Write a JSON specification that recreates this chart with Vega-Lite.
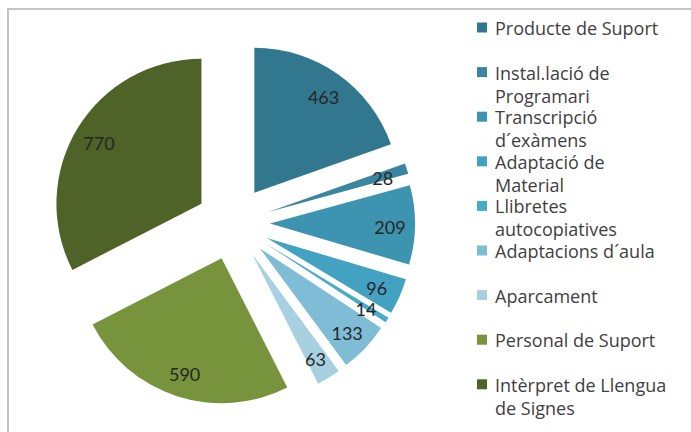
{
  "$schema": "https://vega.github.io/schema/vega-lite/v6.json",
  "autosize": "none",
  "padding": {"left": 8, "top": 9, "right": 0, "bottom": 0},
  "width": 683,
  "height": 423,
  "background": "white",
  "view": {"stroke": "#c4c4c4", "strokeWidth": 2, "strokeDash": [683, 1106, 423]},
  "config": {
    "style": {"guide-label": {"lineHeight": 23}}
  },
  "data": {
    "values": [
      {"categoria": "Producte de Suport", "valor": 463},
      {"categoria": "Instal.lació de Programari", "valor": 28},
      {"categoria": "Transcripció d´exàmens", "valor": 209},
      {"categoria": "Adaptació de Material", "valor": 96},
      {"categoria": "Llibretes autocopiatives", "valor": 14},
      {"categoria": "Adaptacions d´aula", "valor": 133},
      {"categoria": "Aparcament", "valor": 63},
      {"categoria": "Personal de Suport", "valor": 590},
      {"categoria": "Intèrpret de Llengua de Signes", "valor": 770}
    ]
  },
  "transform": [
    {"joinaggregate": [{"op": "sum", "field": "valor", "as": "total"}]},
    {"stack": "valor", "groupby": [], "as": ["s0", "s1"]}
  ],
  "layer": [
    {
      "mark": {
        "type": "arc",
        "radius": 145,
        "x": {"expr": "225 + 37*sin(PI*(datum.s0+datum.s1)/datum.total)"},
        "y": {"expr": "214 - 37*cos(PI*(datum.s0+datum.s1)/datum.total)"}
      },
      "encoding": {
        "theta": {"field": "valor", "type": "quantitative", "stack": true},
        "order": {"field": "s0", "type": "quantitative"},
        "color": {
          "field": "categoria",
          "type": "nominal",
          "sort": null,
          "scale": {
            "domain": ["Producte de Suport", "Instal.lació de Programari", "Transcripció d´exàmens", "Adaptació de Material", "Llibretes autocopiatives", "Adaptacions d´aula", "Aparcament", "Personal de Suport", "Intèrpret de Llengua de Signes"],
            "range": ["#31788f", "#3a86a0", "#3d94b1", "#43a2c1", "#49abc8", "#7fbdd6", "#a7d0e0", "#77933c", "#4f6228"]
          },
          "legend": {
            "orient": "none",
            "legendX": 465,
            "legendY": 17,
            "title": null,
            "padding": 0,
            "gridAlign": "all",
            "rowPadding": 3.6,
            "symbolType": "M-1,-2.5H1V-0.5H-1Z",
            "symbolSize": 100,
            "symbolStrokeWidth": 0,
            "labelFont": "Open Sans",
            "labelFontSize": 18,
            "labelColor": "#404040",
            "labelOffset": 4,
            "labelBaseline": "alphabetic",
            "labelLimit": 300,
            "labelExpr": "length(datum.label) > 18 ? [substring(datum.label, 0, lastindexof(substring(datum.label, 0, 21), ' ')), substring(datum.label, lastindexof(substring(datum.label, 0, 21), ' ') + 1)] : datum.label"
          }
        }
      }
    },
    {
      "mark": {"type": "text", "radius": 157, "x": 225, "y": 218, "font": "Lato", "fontSize": 18, "color": "#262626"},
      "encoding": {
        "theta": {"field": "valor", "type": "quantitative", "stack": true},
        "order": {"field": "s0", "type": "quantitative"},
        "text": {"field": "valor", "type": "quantitative"}
      }
    }
  ]
}
